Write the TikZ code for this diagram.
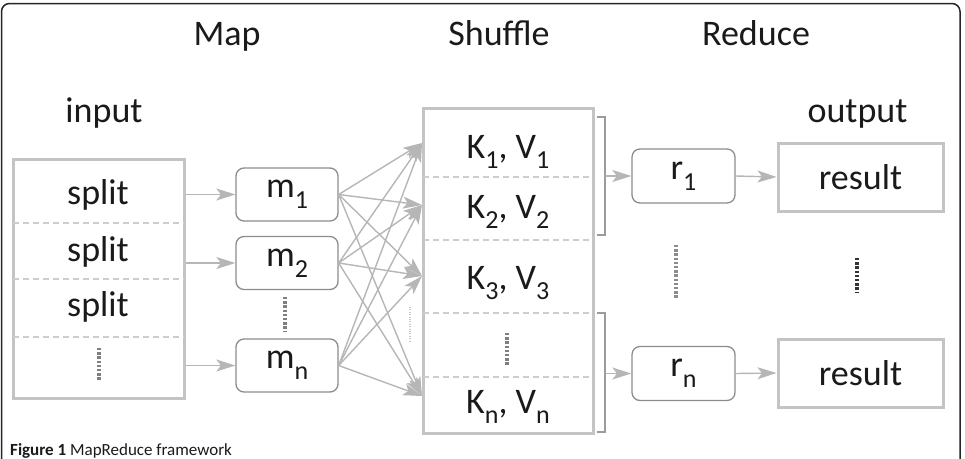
\documentclass[tikz,border=0pt]{standalone}
\usepackage{fontspec}
\setmainfont{Carlito}
\usetikzlibrary{arrows.meta}

\definecolor{txt}{HTML}{1A1A1A}
\definecolor{thickgray}{HTML}{C4C4C4}
\definecolor{thingray}{HTML}{8C8C8C}
\definecolor{arrgray}{HTML}{B6B6B6}
\definecolor{dashgray}{HTML}{CDCDCD}

% lowered subscript in text font
\newcommand\lowsub[1]{\raisebox{-0.3em}{\fontsize{26}{26}\selectfont #1}}

\begin{document}
\begin{tikzpicture}[x=1pt,y=-1pt,
  lbl/.style={font=\fontsize{36}{40}\selectfont, text=txt, inner sep=0pt},
  title/.style={lbl, anchor=base},
  bigbox/.style={draw=thickgray, line width=3pt, inner sep=0pt},
  smallbox/.style={draw=thingray, line width=1.3pt, rounded corners=8pt, inner sep=0pt},
  sep/.style={draw=dashgray, line width=1.2pt, dash pattern=on 6pt off 4pt},
  flow/.style={draw=arrgray, line width=1.4pt, -{Stealth[length=19pt,width=12pt,inset=4.5pt]}},
  brk/.style={draw=arrgray!85!black, line width=1.2pt},
  dotline/.style={line width=3.4pt, dash pattern=on 2.4pt off 1.8pt},
]
\useasboundingbox (0,0) rectangle (965,458);
\clip (0,0) rectangle (965,458);

% outer frame
\draw[black!85, line width=1.5pt, rounded corners=8pt] (1.5,3.5) rectangle (960,520);

% stage titles
\node[title] (tmap) at (227,45) {Map};
\node[title] (tshuffle) at (499,45) {Shuffle};
\node[title] (treduce) at (756,45) {Reduce};
\node[title] (tinput) at (104,122) {input};
\node[title] (toutput) at (857.5,122) {output};

% input splits
\node[bigbox, minimum width=171pt, minimum height=239pt] (input) at (98.5,278.5) {};
\draw[sep] (13,223) -- (184,223);
\draw[sep] (13,279) -- (184,279);
\draw[sep] (13,337) -- (184,337);
\node[lbl] (s1) at (98,195) {split};
\node[lbl] (s2) at (98,252) {split};
\node[lbl] (s3) at (98,307) {split};
\draw[dotline, black!50] (99,348) -- (99,381);

% map tasks
\node[smallbox, minimum width=102pt, minimum height=53pt] (m1) at (287,194.5) {};
\node[smallbox, minimum width=102pt, minimum height=53pt] (m2) at (287,263) {};
\node[smallbox, minimum width=102pt, minimum height=53pt] (mn) at (287,365.5) {};
\node[lbl] at (m1) {m\lowsub{1}};
\node[lbl] at (m2) {m\lowsub{2}};
\node[lbl] at (mn) {m\lowsub{n}};
\draw[dotline, black!50] (285,297) -- (285,331);

\draw[flow] (m1.west -| input.east) -- (m1.west);
\draw[flow] (m2.west -| input.east) -- (m2.west);
\draw[flow] (mn.west -| input.east) -- (mn.west);

% shuffle buckets
\node[bigbox, minimum width=170pt, minimum height=325pt] (shuffle) at (508,270.5) {};
\draw[sep] (423,177) -- (593,177);
\draw[sep] (423,240) -- (593,240);
\draw[sep] (423,313) -- (593,313);
\draw[sep] (423,377) -- (593,377);
\node[lbl] (kv1) at (508,152) {K\lowsub{1}, V\lowsub{1}};
\node[lbl] (kv2) at (508,212) {K\lowsub{2}, V\lowsub{2}};
\node[lbl] (kv3) at (508,283) {K\lowsub{3}, V\lowsub{3}};
\node[lbl] (kvn) at (508,407) {K\lowsub{n}, V\lowsub{n}};
\draw[dotline, black!50] (507,333) -- (507,366);
\draw[arrgray!80, line width=1.6pt, dash pattern=on 1pt off 1.4pt] (410,307) -- (410,342);

% arrival points on the shuffle side
\coordinate (t1) at (422,143);
\coordinate (t2) at (422,205);
\coordinate (t3) at (422,276);
\coordinate (t4) at (422,396);

\foreach \m in {m1,m2,mn}{
  \foreach \t in {t1,t2,t3,t4}{
    \draw[flow] (\m.east) -- (\t);
  }
}

% groups handed to reducers
\draw[brk] (597,117) -- (605,117) -- (605,235) -- (597,235);
\draw[brk] (597,313) -- (605,313) -- (605,432) -- (597,432);
\coordinate (g1) at (605,176);
\coordinate (gn) at (605,373.5);

% reduce tasks
\node[smallbox, minimum width=103pt, minimum height=54pt] (r1) at (683.5,176) {};
\node[smallbox, minimum width=103pt, minimum height=54pt] (rn) at (683.5,373.5) {};
\node[lbl] at (r1) {r\lowsub{1}};
\node[lbl] at (rn) {r\lowsub{n}};
\draw[dotline, black!45] (676,245) -- (676,298);

\draw[flow] (g1) -- (r1.west);
\draw[flow] (gn) -- (rn.west);

% results
\node[bigbox, minimum width=165pt, minimum height=68pt] (res1) at (860.5,177) {};
\node[bigbox, minimum width=165pt, minimum height=68pt] (resn) at (860.5,373) {};
\node[lbl] at (res1) {result};
\node[lbl] at (resn) {result};
\draw[dotline, black!80] (857,258) -- (857,293);

\draw[flow] (r1.east) -- (res1.west);
\draw[flow] (rn.east) -- (resn.west);

% caption
\node[anchor=base west, inner sep=0pt, text=txt, font=\fontsize{17}{19}\selectfont] (cap) at (10,455) {\textbf{Figure 1} MapReduce framework};
\end{tikzpicture}
\end{document}
